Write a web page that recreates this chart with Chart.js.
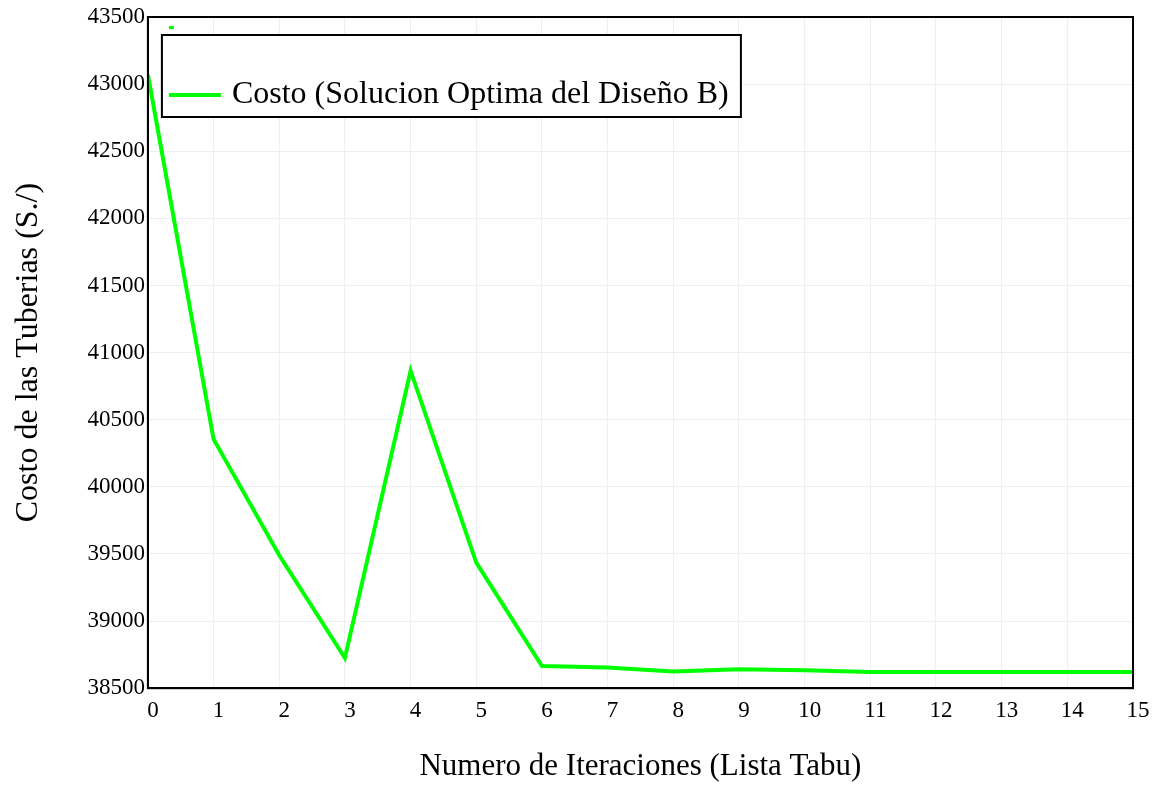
<!DOCTYPE html>
<html>
<head>
<meta charset="utf-8">
<script src="https://cdn.jsdelivr.net/npm/chart.js@4/dist/chart.umd.min.js"></script>
<style>
  html, body { margin: 0; padding: 0; background: #fff; }
  #wrap { width: 1159px; height: 785px; }
</style>
</head>
<body>
<div id="wrap"><canvas id="chart"></canvas></div>
<script>
// iteration number vs pipe cost
const iteraciones = [0, 1, 2, 3, 4, 5, 6, 7, 8, 9, 10, 11, 12, 13, 14, 15];
const costo = [43070, 40355, 39490, 38725, 40865, 39435, 38665, 38655, 38625, 38642, 38634, 38620, 38620, 38620, 38620, 38620];
const serieLabel = "Costo (Solucion Optima del Diseño B)";
const xTitle = "Numero de Iteraciones (Lista Tabu)";
const yTitle = "Costo de las Tuberias (S./)";

const FONT = "'Liberation Serif', 'Times New Roman', serif";
const GREEN = "#00ff00";

// frame around the plot + boxed legend in the upper left
const boxPlugin = {
  id: "boxPlugin",
  afterDraw(chart) {
    const { ctx, chartArea: a } = chart;
    ctx.save();
    ctx.strokeStyle = "#000";
    ctx.lineWidth = 2;
    ctx.strokeRect(a.left, a.top, a.right - a.left, a.bottom - a.top);

    const lx = a.left + 14, ly = a.top + 18, lw = 579, lh = 82;
    ctx.fillStyle = "#fff";
    ctx.fillRect(lx, ly, lw, lh);
    ctx.strokeRect(lx, ly, lw, lh);

    // tiny stray marker of the empty entry
    ctx.fillStyle = GREEN;
    ctx.fillRect(lx + 7, ly - 9, 5, 3);

    ctx.strokeStyle = GREEN;
    ctx.lineWidth = 4;
    ctx.beginPath();
    ctx.moveTo(lx + 7, ly + 60);
    ctx.lineTo(lx + 59, ly + 60);
    ctx.stroke();

    ctx.fillStyle = "#000";
    ctx.font = "32px " + FONT;
    ctx.textBaseline = "middle";
    ctx.fillText(serieLabel, lx + 70, ly + 60);
    ctx.restore();
  }
};

new Chart(document.getElementById("chart"), {
  type: "line",
  data: {
    labels: iteraciones,
    datasets: [{
      label: serieLabel,
      data: iteraciones.map((x, i) => ({ x: x, y: costo[i] })),
      borderColor: GREEN,
      borderWidth: 4,
      pointRadius: 0,
      tension: 0,
      fill: false
    }]
  },
  options: {
    responsive: true,
    maintainAspectRatio: false,
    animation: false,
    layout: { padding: { top: 17, right: 26, left: 9, bottom: 0 } },
    plugins: {
      legend: { display: false },
      tooltip: { enabled: false }
    },
    scales: {
      x: {
        type: "linear",
        min: 0,
        max: 15,
        ticks: { stepSize: 1, color: "#000", font: { family: FONT, size: 23 }, labelOffset: 5, padding: 9 },
        grid: { color: "#eeeef5", lineWidth: 1, drawTicks: false },
        border: { color: "#000", width: 2 },
        title: { display: true, text: xTitle, color: "#000", font: { family: FONT, size: 31 }, padding: { top: 14, bottom: 0 } }
      },
      y: {
        min: 38500,
        max: 43500,
        ticks: { stepSize: 500, color: "#000", font: { family: FONT, size: 23 }, padding: 3, callback: v => String(v) },
        grid: { color: "#eeeef5", lineWidth: 1, drawTicks: false },
        border: { color: "#000", width: 2 },
        title: { display: true, text: yTitle, color: "#000", font: { family: FONT, size: 32 }, padding: { top: 0, bottom: 37 } }
      }
    }
  },
  plugins: [boxPlugin]
});
</script>
</body>
</html>
